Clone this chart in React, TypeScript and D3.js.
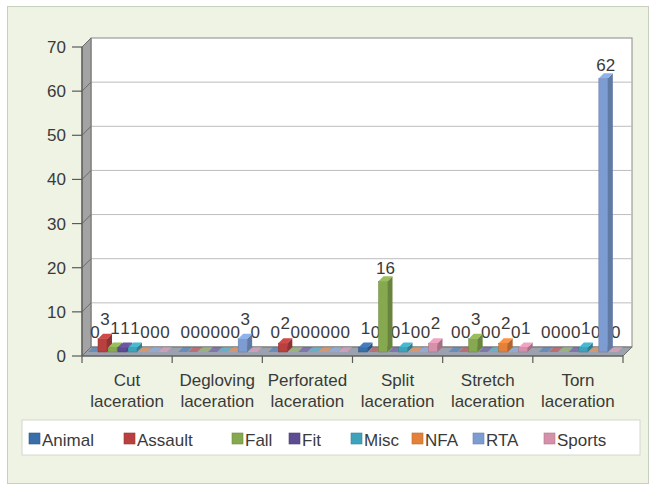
import React from "react";
import * as d3 from "d3";

const categories = [
  "Cut laceration",
  "Degloving laceration",
  "Perforated laceration",
  "Split laceration",
  "Stretch laceration",
  "Torn laceration",
];
const seriesNames = ["Animal", "Assault", "Fall", "Fit", "Misc", "NFA", "RTA", "Sports"];
const animal = [0, 0, 0, 1, 0, 0];
const assault = [3, 0, 2, 0, 0, 0];
const fall = [1, 0, 0, 16, 3, 0];
const fit = [1, 0, 0, 0, 0, 0];
const misc = [1, 0, 0, 1, 0, 1];
const nfa = [0, 0, 0, 0, 2, 0];
const rta = [0, 3, 0, 0, 0, 62];
const sports = [0, 0, 0, 2, 1, 0];
const seriesValues = [animal, assault, fall, fit, misc, nfa, rta, sports];
const seriesColors = ["#3a6ea8", "#b8403f", "#86a94f", "#5e4c92", "#3ea3ba", "#e3813a", "#7d9dd2", "#d590aa"];
const yTicks = [0, 10, 20, 30, 40, 50, 60, 70];

const FONT = "'Liberation Sans', Arial, sans-serif";
const TEXT = "#3a3a3a";
const legendX = [29, 124, 232, 289, 351, 412, 473, 544];

export default function App() {
  const W = 656, H = 485;
  const FX0 = 82, FX1 = 623, DEP = 9;
  const yF = d3.scaleLinear().domain([0, 70]).range([356, 47]);
  const yB = (v: number) => yF(v) - DEP;
  const yBar = d3.scaleLinear().domain([0, 70]).range([352, 43]);
  const xBand = d3.scaleBand<string>().domain(categories).range([FX0, FX1]);
  const xSeries = d3.scaleBand<string>().domain(seriesNames).range([5, 85]);
  const BW = 9, BD = 5;

  const pts = (a: number[][]) => a.map((p) => p.join(",")).join(" ");

  const bars: any[] = [];
  const labels: any[] = [];
  categories.forEach((cat, ci) => {
    seriesNames.forEach((s, si) => {
      const v = seriesValues[si][ci];
      const fx = (xBand(cat) as number) + (xSeries(s) as number) + 1;
      const base = yBar(0);
      const top = yBar(v);
      const col = d3.color(seriesColors[si])!;
      const side = col.darker(0.7).toString();
      const topc = col.brighter(0.35).toString();
      labels.push(
        <text key={`l${ci}-${si}`} x={fx + BW / 2 + BD / 2} y={top - BD - (v < 5 ? 9 : 2)}
          textAnchor="middle" fontSize={17} fill={TEXT} fontFamily={FONT}>{v}</text>
      );
      bars.push(
        <g key={`b${ci}-${si}`} opacity={v === 0 ? 0.55 : 1}>
          {v > 0 && <rect x={fx} y={top} width={BW} height={base - top} fill={col.toString()} stroke={side} strokeWidth={0.5} />}
          {v > 0 && <polygon points={pts([[fx + BW, base], [fx + BW + BD, base - BD], [fx + BW + BD, top - BD], [fx + BW, top]])} fill={side} />}
          <polygon points={pts([[fx, top], [fx + BW, top], [fx + BW + BD, top - BD], [fx + BD, top - BD]])} fill={topc} />
        </g>
      );
    });
  });

  return (
    <div style={{ position: "absolute", left: 0, top: 0 }}>
      <svg width={W} height={H} style={{ display: "block" }}>
        <rect x={0} y={0} width={W} height={H} fill="#ffffff" />
        <rect x={7.5} y={6.5} width={641} height={477} fill="#eef3e3" stroke="#c9cfc0" />
        {/* back wall */}
        <rect x={FX0 + DEP} y={yB(70)} width={FX1 - FX0} height={yB(0) - yB(70)} fill="#ffffff" stroke="#8a8a8a" strokeWidth={1} />
        {yTicks.filter((t) => t > 0 && t < 70).map((t) => (
          <line key={`g${t}`} x1={FX0 + DEP} x2={FX1 + DEP} y1={yB(t)} y2={yB(t)} stroke="#bdbdbd" strokeWidth={1} />
        ))}
        {/* left wall */}
        <polygon points={pts([[FX0, yF(0)], [FX0, yF(70)], [FX0 + DEP, yB(70)], [FX0 + DEP, yB(0)]])} fill="#a3a3a3" stroke="#6f6f6f" strokeWidth={1} />
        {yTicks.map((t) => (
          <line key={`d${t}`} x1={FX0} y1={yF(t)} x2={FX0 + DEP} y2={yB(t)} stroke="#6a6a6a" strokeWidth={1} />
        ))}
        {/* floor */}
        <polygon points={pts([[FX0, yF(0)], [FX1, yF(0)], [FX1 + DEP, yB(0)], [FX0 + DEP, yB(0)]])} fill="#9ba1ad" stroke="#707070" strokeWidth={1} />
        {/* labels then bars */}
        {labels}
        {bars}
        {/* front axes */}
        <line x1={FX0} x2={FX0} y1={yF(70)} y2={yF(0)} stroke="#5a5a5a" strokeWidth={1.2} />
        <line x1={FX0} x2={FX1} y1={yF(0)} y2={yF(0)} stroke="#5a5a5a" strokeWidth={1.2} />
        {yTicks.map((t) => (
          <g key={`t${t}`}>
            <line x1={FX0 - 10} x2={FX0} y1={yF(t)} y2={yF(t)} stroke="#5a5a5a" strokeWidth={1.2} />
            <text x={66} y={yF(t) + 6} textAnchor="end" fontSize={17} fill={TEXT} fontFamily={FONT}>{t}</text>
          </g>
        ))}
        {categories.map((c, i) => (
          <line key={`xt${i}`} x1={xBand(c)!} x2={xBand(c)!} y1={yF(0)} y2={yF(0) + 7} stroke="#5a5a5a" strokeWidth={1.2} />
        ))}
        <line x1={FX1} x2={FX1} y1={yF(0)} y2={yF(0) + 7} stroke="#5a5a5a" strokeWidth={1.2} />
        {categories.map((c, i) => {
          const cx = (xBand(c) as number) + xBand.bandwidth() / 2;
          const parts = c.split(" ");
          return (
            <text key={`c${i}`} textAnchor="middle" fontSize={17} fill={TEXT} fontFamily={FONT}>
              <tspan x={cx} y={386}>{parts[0]}</tspan>
              <tspan x={cx} y={407}>{parts[1]}</tspan>
            </text>
          );
        })}
        {/* legend */}
        <rect x={22} y={420} width={618} height={35} fill="#ffffff" stroke="#d4d8cf" />
        {seriesNames.map((s, i) => (
          <g key={`lg${i}`}>
            <rect x={legendX[i]} y={433} width={11} height={11} fill={seriesColors[i]} stroke={d3.color(seriesColors[i])!.darker(0.5).toString()} strokeWidth={0.6} />
            <text x={legendX[i] + 13} y={446} fontSize={17} fill={TEXT} fontFamily={FONT}>{s}</text>
          </g>
        ))}
      </svg>
    </div>
  );
}
